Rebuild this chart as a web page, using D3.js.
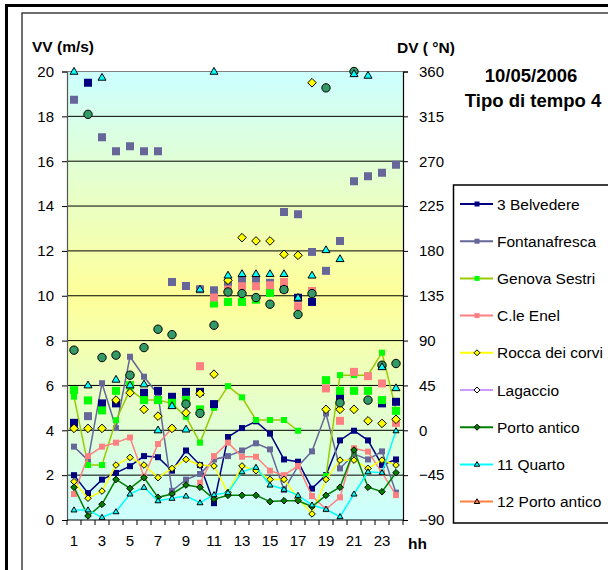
<!DOCTYPE html>
<html><head><meta charset="utf-8">
<script src="https://cdn.jsdelivr.net/npm/d3@7"></script>
<style>
html,body{margin:0;padding:0;background:#fff;}
svg{display:block;font-family:"Liberation Sans",Arial,sans-serif;}
</style></head>
<body><svg id="c" width="608" height="570"></svg>
<script>
// ---------- DATA ----------
const hours = [1,2,3,4,5,6,7,8,9,10,11,12,13,14,15,16,17,18,19,20,21,22,23,24];
const hourLabels = ["1","3","5","7","9","11","13","15","17","19","21","23"];
const vvTicks = [0,2,4,6,8,10,12,14,16,18,20];
const dvTicks = [-90,-45,0,45,90,135,180,225,270,315,360];
const stations = ["3 Belvedere","Fontanafresca","Genova Sestri","C.le Enel","Rocca dei corvi","Lagaccio","Porto antico","11 Quarto","12 Porto antico"];

// wind speed VV (m/s), left axis
const belvedereVV = [2.0,1.2,1.8,2.1,2.4,2.85,2.8,2.2,3.1,2.45,0.75,3.7,4.1,4.4,3.85,2.7,2.6,1.4,2.0,3.55,3.98,3.55,2.45,2.7];
const fontanafrescaVV = [3.27,2.67,6.1,4.1,7.28,6.39,5.6,1.3,1.8,2.05,2.7,2.85,3.1,3.42,3.15,1.34,2.4,3.06,4.75,2.3,2.94,2.7,3.06,1.22];
const genovaSestriVV = [5.5,2.45,2.45,4.45,5.8,5.35,5.35,5.2,4.6,3.45,5.0,5.97,5.47,4.46,4.46,4.46,3.98,null,1.96,6.46,6.46,6.46,7.46,4.9];
const cleEnelVV = [1.16,2.85,3.27,3.45,3.68,1.93,3.39,4.09,null,1.66,2.85,3.45,2.82,2.82,2.2,2.0,2.41,1.07,0.48,1.01,3.2,3.05,2.11,1.11];
const roccaVV = [1.71,0.97,1.29,2.45,2.79,2.45,1.89,2.3,2.7,2.45,2.41,1.22,2.41,2.2,1.81,1.81,0.97,0.27,1.81,2.67,2.67,2.3,2.67,2.45];
const lagaccioVV = [null,null,null,null,null,null,null,null,null,null,null,null,null,null,null,null,null,null,null,null,null,null,null,null];
const portoAnticoVV = [1.46,0.18,0.7,1.81,1.41,1.89,1.01,1.16,1.56,1.46,0.93,1.1,1.1,1.1,0.82,0.86,0.86,0.6,1.1,1.46,3.12,1.46,1.26,2.11];
const quartoVV = [0.45,0.45,0.12,0.37,1.16,1.46,0.86,0.97,1.07,0.77,1.13,1.22,2.15,2.35,1.56,1.37,1.1,0.67,0.48,0.15,1.16,2.15,2.11,3.98];
const portoAntico12VV = [null,null,null,null,null,null,null,null,null,null,null,null,null,null,null,null,null,null,null,null,null,null,null,null];

// wind direction DV (°N), right axis
const belvedereDV = [7.5,348.7,27,27,null,37.6,39.6,33.6,38.6,38.6,26.3,null,null,null,null,142,133,128.8,null,34.3,null,null,27,28.6];
const fontanafrescaDV = [331.6,14.2,294,280,285,280,280,148.8,144.8,141.5,140.5,147,150.5,150.5,148,219,216.7,179,160,190,250,255,258.4,266.5];
const genovaSestriDV = [40.3,30,20,39.6,45.3,30.3,30.3,27.6,30.3,21,127.2,128.8,128.8,131,137.8,null,null,null,50.3,39.6,39.6,39.6,30.3,19.5];
const cleEnelDV = [null,null,null,null,null,null,null,null,null,64.3,133.2,141.2,144.5,144.5,145.5,148.8,124.5,139.8,42,9.5,58.6,54.3,47,7.5];
const roccaDV = [1.9,1.9,1.9,30.3,37.6,21,14.2,1.9,17.5,37,56.3,150.5,193.3,190,190,176.6,175.6,348.7,21,21,21,9.5,6.9,11];
const portoAnticoDV = [80.4,317,73,75.4,55.3,83,101.4,96,26.3,17,105.4,138.8,137.2,133.2,126.5,141.2,116.2,137.2,343.6,27.6,360,30.3,65.3,67];
const quartoDV = [360,45.3,354,51,45.3,46.3,0.2,24.5,1,141.5,360,155.5,157,157,157,157,133.2,155.5,181,172,357.6,356,63.6,42.5];

// ---------- STYLES ----------
const vvSeries = [
  {name:stations[0], data:belvedereVV, line:"#000080", fill:"#000080", stroke:"none", shape:"square", size:6},
  {name:stations[1], data:fontanafrescaVV, line:"#666699", fill:"#666699", stroke:"none", shape:"square", size:6},
  {name:stations[2], data:genovaSestriVV, line:"#99cc00", fill:"#00ff00", stroke:"none", shape:"square", size:6},
  {name:stations[3], data:cleEnelVV, line:"#ff8080", fill:"#ff8080", stroke:"none", shape:"square", size:6},
  {name:stations[4], data:roccaVV, line:"#ffff00", fill:"#ffff00", stroke:"#000", shape:"diamond", size:3.3},
  {name:stations[5], data:lagaccioVV, line:"#cc99ff", fill:"#ffffff", stroke:"#000", shape:"diamond", size:3},
  {name:stations[6], data:portoAnticoVV, line:"#008000", fill:"#008000", stroke:"#000", shape:"diamond", size:3.3},
  {name:stations[7], data:quartoVV, line:"#00ffff", fill:"#00ffff", stroke:"#000", shape:"triangle", size:6},
  {name:stations[8], data:portoAntico12VV, line:"#ff8040", fill:"#ff8040", stroke:"#000", shape:"triangle", size:6}
];
const dvSeries = [
  {data:belvedereDV, fill:"#000080", stroke:"none", shape:"square", size:8},
  {data:fontanafrescaDV, fill:"#666699", stroke:"none", shape:"square", size:8},
  {data:genovaSestriDV, fill:"#00ff00", stroke:"none", shape:"square", size:8},
  {data:cleEnelDV, fill:"#ff8080", stroke:"none", shape:"square", size:8},
  {data:roccaDV, fill:"#ffff00", stroke:"#000", shape:"diamond", size:4.3},
  {data:portoAnticoDV, fill:"#339966", stroke:"#000", shape:"circle", size:4.2},
  {data:quartoDV, fill:"#00ffff", stroke:"#000", shape:"triangle", size:8}
];

function shape(type, s){
  if(type==="square"){const h=s/2;return `M${-h},${-h}h${s}v${s}h${-s}Z`;}
  if(type==="diamond"){return `M0,${-s}L${s},0L0,${s}L${-s},0Z`;}
  if(type==="triangle"){const h=s*0.85;return `M0,${-h*0.6}L${s/2},${h*0.4}L${-s/2},${h*0.4}Z`;}
  if(type==="circle"){return `M${s},0A${s},${s} 0 1,1 ${-s},0A${s},${s} 0 1,1 ${s},0Z`;}
}

// ---------- LAYOUT ----------
const L=67, R=403, T=71.5, B=520;
const svg = d3.select("#c");

// outer frames
svg.append("rect").attr("x",6.5).attr("y",5.5).attr("width",640).attr("height",600)
  .attr("fill","none").attr("stroke","#000").attr("stroke-width",3);
svg.append("rect").attr("x",22).attr("y",13).attr("width",640).attr("height",600)
  .attr("fill","none").attr("stroke","#222").attr("stroke-width",1.3);

const x = d3.scaleBand().domain(hours).range([L,R]).padding(0);
const yL = d3.scaleLinear().domain([0,20]).range([B,T]);
const yR = d3.scaleLinear().domain([-90,360]).range([B,T]);
const cx = h => x(h) + x.bandwidth()/2;

// background gradient
const defs = svg.append("defs");
const grad = defs.append("linearGradient").attr("id","bg").attr("x1",0).attr("y1",0).attr("x2",0).attr("y2",1);
grad.append("stop").attr("offset","0%").attr("stop-color","#ccffff");
grad.append("stop").attr("offset","50%").attr("stop-color","#ffff99");
grad.append("stop").attr("offset","100%").attr("stop-color","#ccffff");
svg.append("rect").attr("x",L).attr("y",T).attr("width",R-L).attr("height",B-T).attr("fill","url(#bg)");
defs.append("clipPath").attr("id","clip").append("rect").attr("x",L-6).attr("y",T-8).attr("width",R-L+12).attr("height",B-T+16);

// gridlines
svg.append("g").selectAll("line").data(vvTicks.slice(1)).join("line")
  .attr("x1",L).attr("x2",R).attr("y1",d=>yL(d)).attr("y2",d=>yL(d))
  .attr("stroke",d=>d===20?"#808080":"#000").attr("stroke-width",1);

// axes
const fontSize = "15px";
const gL = svg.append("g").attr("transform",`translate(${L},0)`)
  .call(d3.axisLeft(yL).tickValues(vvTicks).tickSize(5).tickPadding(8).tickFormat(d3.format("d")));
const gR = svg.append("g").attr("transform",`translate(${R},0)`)
  .call(d3.axisRight(yR).tickValues(dvTicks).tickSize(5).tickPadding(11).tickFormat(d3.format("d")));
const gX = svg.append("g").attr("transform",`translate(0,${B})`)
  .call(d3.axisBottom(x).tickValues(hours).tickSize(0).tickPadding(15).tickFormat(d=>hourLabels.includes(String(d))?String(d):""));
// boundary ticks on x axis
svg.append("g").selectAll("line").data(hours.concat([25])).join("line")
  .attr("x1",d=>d===25?R:x(d)).attr("x2",d=>d===25?R:x(d)).attr("y1",B).attr("y2",B+5)
  .attr("stroke","#000");
[gL,gR,gX].forEach(g=>{
  g.select(".domain").attr("stroke","#000").attr("stroke-width",1.2);
  g.selectAll(".tick line").attr("stroke","#000");
  g.selectAll("text").attr("font-size",fontSize).attr("fill","#000").attr("font-family","Liberation Sans, Arial, sans-serif");
});
gL.select(".domain").attr("stroke","#555");
gX.select(".domain").attr("d",`M${L},0H${R}`);

// VV lines
const plot = svg.append("g").attr("clip-path","url(#clip)");
const line = d3.line().defined(d=>d.v!=null).x(d=>cx(d.h)).y(d=>yL(d.v));
vvSeries.forEach(s=>{
  const pts = hours.map((h,i)=>({h, v:s.data[i]}));
  plot.append("path").attr("d",line(pts)).attr("fill","none").attr("stroke",s.line).attr("stroke-width",1.5);
  plot.append("g").selectAll("path").data(pts.filter(p=>p.v!=null)).join("path")
    .attr("d",shape(s.shape,s.size)).attr("transform",p=>`translate(${cx(p.h)},${yL(p.v)})`)
    .attr("fill",s.fill).attr("stroke",s.stroke).attr("stroke-width",1);
});

// DV markers
dvSeries.forEach(s=>{
  const pts = hours.map((h,i)=>({h, v:s.data[i]})).filter(p=>p.v!=null);
  plot.append("g").selectAll("path").data(pts).join("path")
    .attr("d",shape(s.shape,s.size)).attr("transform",p=>`translate(${cx(p.h)},${yR(p.v)})`)
    .attr("fill",s.fill).attr("stroke",s.stroke).attr("stroke-width",s.stroke==="none"?0:1);
});

// axis titles
svg.append("text").attr("x",32).attr("y",52).attr("font-size","15.5px").attr("font-weight","bold").text("VV (m/s)");
svg.append("text").attr("x",397).attr("y",53).attr("font-size","15.5px").attr("font-weight","bold").text("DV ( °N)");
svg.append("text").attr("x",408).attr("y",549).attr("font-size","15.5px").attr("font-weight","bold").text("hh");

// chart title
svg.append("text").attr("x",531).attr("y",82).attr("text-anchor","middle").attr("font-size","18.5px").attr("font-weight","bold").text("10/05/2006");
svg.append("text").attr("x",533).attr("y",107).attr("text-anchor","middle").attr("font-size","18.5px").attr("font-weight","bold").text("Tipo di tempo 4");

// legend
const lg = svg.append("g");
lg.append("rect").attr("x",453.5).attr("y",185).attr("width",200).attr("height",338)
  .attr("fill","#fff").attr("stroke","#000").attr("stroke-width",1.5);
vvSeries.forEach((s,i)=>{
  const yy = 204 + i*37.2;
  lg.append("line").attr("x1",460).attr("x2",493).attr("y1",yy).attr("y2",yy).attr("stroke",s.line).attr("stroke-width",2);
  const sz = s.shape==="square"?5:(s.shape==="diamond"?3:5.5);
  lg.append("path").attr("d",shape(s.shape,sz)).attr("transform",`translate(477,${yy})`)
    .attr("fill",s.fill).attr("stroke",s.stroke).attr("stroke-width",1);
  lg.append("text").attr("x",497).attr("y",yy+5.5).attr("font-size","15.5px").text(s.name);
});
</script></body></html>
